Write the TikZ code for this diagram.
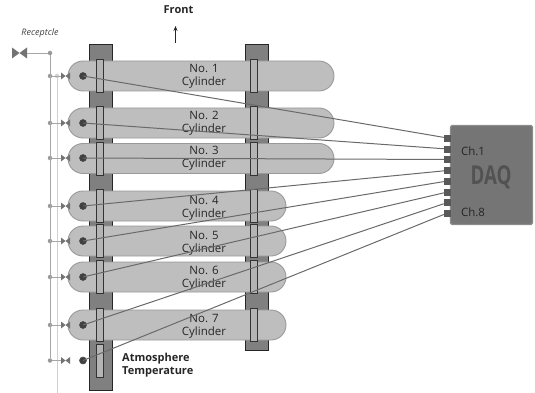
\documentclass[tikz,border=0pt]{standalone}
\usepackage{fontspec}
\setmainfont{Open Sans}
\usetikzlibrary{arrows.meta,positioning}
\definecolor{beamgray}{HTML}{808080}
\definecolor{cylgray}{HTML}{BEBEBE}
\definecolor{cyledge}{HTML}{999999}
\definecolor{pipegray}{HTML}{A6A6A6}
\definecolor{clampgray}{HTML}{B4B4B4}
\definecolor{wiregray}{HTML}{6A6A6A}
\definecolor{daqgray}{HTML}{757575}

\begin{document}
\begin{tikzpicture}[
  x=1pt, y=-1pt,
  beam/.style   = {rectangle, draw=black!85, fill=beamgray, line width=0.8pt,
                   minimum width=23pt, inner sep=0pt},
  cyl/.style    = {rectangle, draw=cyledge, fill=cylgray, rounded corners=15pt,
                   line width=0.9pt, minimum height=30pt, inner sep=0pt},
  clamp/.style  = {rectangle, draw=black!80, fill=clampgray, line width=0.7pt,
                   minimum width=7pt, inner sep=0pt},
  cyllab/.style = {align=center, font=\fontsize{11.5}{13}\selectfont, text=black!85,
                   inner sep=0pt},
  sensor/.style = {circle, draw=black!70, fill=black!75, line width=0.6pt,
                   minimum size=7pt, inner sep=0pt},
  joint/.style  = {circle, fill=cyledge, minimum size=4.5pt, inner sep=0pt},
  ljoint/.style = {circle, fill=black!18, minimum size=4.5pt, inner sep=0pt},
  valve/.style  = {rectangle, minimum width=9pt, minimum height=7pt, inner sep=0pt,
                   path picture={\fill[black!55]
                     (path picture bounding box.north west) --
                     (path picture bounding box.south east) --
                     (path picture bounding box.north east) --
                     (path picture bounding box.south west) -- cycle;}},
  port/.style   = {rectangle, fill=black!65, minimum width=7pt, minimum height=7pt,
                   inner sep=0pt},
  pipe/.style   = {draw=pipegray, line width=0.9pt},
  lpipe/.style  = {draw=black!18, line width=0.9pt},
  wire/.style   = {draw=wiregray, line width=1pt}
]
\useasboundingbox (0,0) rectangle (535,393);
% support beams
\node[beam, minimum height=346pt] (lbeam) at (100.5,217) {};
\node[beam, minimum height=306pt] (rbeam) at (256.5,197) {};
% cylinders
\node[cyl, minimum width=266pt] (cyl1) at (201,76)  {};
\node[cyl, minimum width=266pt] (cyl2) at (201,123) {};
\node[cyl, minimum width=266pt] (cyl3) at (201,158.5) {};
\node[cyl, minimum width=218pt] (cyl4) at (177,206) {};
\node[cyl, minimum width=218pt] (cyl5) at (177,241) {};
\node[cyl, minimum width=218pt] (cyl6) at (177,277) {};
\node[cyl, minimum width=218pt] (cyl7) at (177,325) {};
% clamps
\node[clamp, minimum height=33pt] (lc1) at (99.5,76)  {};
\node[clamp, minimum height=33pt] (lc2) at (99.5,123) {};
\node[clamp, minimum height=33pt] (lc3) at (99.5,158.5) {};
\node[clamp, minimum height=33pt] (lc4) at (99.5,206) {};
\node[clamp, minimum height=33pt] (lc5) at (99.5,241) {};
\node[clamp, minimum height=33pt] (lc6) at (99.5,277) {};
\node[clamp, minimum height=33pt] (lc7) at (99.5,325) {};
\node[clamp, minimum height=33pt] (lc8) at (99.5,360.5) {};
\node[clamp, minimum height=33pt] (rc1) at (254,76)  {};
\node[clamp, minimum height=33pt] (rc2) at (254,123) {};
\node[clamp, minimum height=33pt] (rc3) at (254,158.5) {};
\node[clamp, minimum height=33pt] (rc4) at (254,206) {};
\node[clamp, minimum height=33pt] (rc5) at (254,241) {};
\node[clamp, minimum height=33pt] (rc6) at (254,277) {};
\node[clamp, minimum height=33pt] (rc7) at (254,325) {};
% labels
\node[cyllab] (lab1) at (204,76.5)  {No. 1\\Cylinder};
\node[cyllab] (lab2) at (204,123.5) {No. 2\\Cylinder};
\node[cyllab] (lab3) at (204,158) {No. 3\\Cylinder};
\node[cyllab] (lab4) at (204,208.5) {No. 4\\Cylinder};
\node[cyllab] (lab5) at (204,243.5) {No. 5\\Cylinder};
\node[cyllab] (lab6) at (204,278.5) {No. 6\\Cylinder};
\node[cyllab] (lab7) at (204,326.5) {No. 7\\Cylinder};
\node[align=left, inner sep=0pt, font=\bfseries\fontsize{11}{13}\selectfont, text=black!85,
      anchor=west] (atm) at (122,365) {Atmosphere\\Temperature};
\node[inner sep=0pt, font=\bfseries\fontsize{11}{13}\selectfont, text=black!85] (front) at (178.5,10) {Front};
\node[inner sep=0pt, font=\itshape\fontsize{9}{11}\selectfont, text=black!75] (recp) at (40,33) {Receptcle};
% air lines
\coordinate (lbot) at (57,393);
\node[valve, minimum width=15pt, minimum height=11pt] (main) at (19.5,53) {};
\node[joint] (j0) at (50,53)  {};
\node[joint] (j1) at (50,76)  {};
\node[joint] (j2) at (50,123) {};
\node[joint] (j3) at (50,158) {};
\node[joint] (j4) at (50,206) {};
\node[joint] (j5) at (50,241) {};
\node[joint] (j6) at (50,277) {};
\node[joint] (j7) at (50,325) {};
\node[joint] (j8) at (50,360.5) {};
\node[ljoint] (k1) at (57,76) {};
\node[valve] (v1) at (65.5,76)  {};
\node[valve] (v2) at (65.5,123) {};
\node[valve] (v3) at (65.5,158) {};
\node[valve] (v4) at (65.5,206) {};
\node[valve] (v5) at (65.5,241) {};
\node[valve] (v6) at (65.5,277) {};
\node[valve] (v7) at (65.5,325) {};
\node[valve] (v8) at (65.5,360.5) {};
\draw[lpipe] (k1) -- (lbot);
\draw[pipe] (main) -- (j0);
\draw[pipe] (j0) -- (j8);
\draw[pipe] (j1) -- (v1);
\draw[pipe] (j2) -- (v2);
\draw[pipe] (j3) -- (v3);
\draw[pipe] (j4) -- (v4);
\draw[pipe] (j5) -- (v5);
\draw[pipe] (j6) -- (v6);
\draw[pipe] (j7) -- (v7);
\draw[pipe] (j8) -- (v8);
% sensors
\node[sensor] (s1) at (83,76)  {};
\node[sensor] (s2) at (83,123) {};
\node[sensor] (s3) at (83,158) {};
\node[sensor] (s4) at (83,206) {};
\node[sensor] (s5) at (83,241) {};
\node[sensor] (s6) at (83,277) {};
\node[sensor] (s7) at (83,325) {};
\node[sensor] (s8) at (83,360.5) {};
% DAQ
\node[rectangle, draw=black!45, fill=daqgray, line width=1.2pt, rounded corners=1.5pt,
      minimum width=82pt, minimum height=99pt, inner sep=0pt] (daq) at (491.5,175) {};
\node[port] (p1) at (447.5,138)   {};
\node[port] (p2) at (447.5,149)   {};
\node[port] (p3) at (447.5,159.5) {};
\node[port] (p4) at (447.5,170.5) {};
\node[port] (p5) at (447.5,181)   {};
\node[port] (p6) at (447.5,192)   {};
\node[port] (p7) at (447.5,202.5) {};
\node[port] (p8) at (447.5,213)   {};
\node[inner sep=0pt, text=black!85, font=\fontsize{11.5}{13}\selectfont] (ch1) at (473,151) {Ch.1};
\node[inner sep=0pt, text=black!85, font=\fontsize{11.5}{13}\selectfont] (ch8) at (473,212) {Ch.8};
\node[inner sep=0pt, text=black!68, font=\bfseries\fontsize{26}{28}\selectfont] (daqlab) at (491,177) {\scalebox{.72}[1]{DAQ}};
% wires
\draw[wire] (s1.center) -- (p1);
\draw[wire] (s2.center) -- (p2);
\draw[wire] (s3.center) -- (p3);
\draw[wire] (s4.center) -- (p4);
\draw[wire] (s5.center) -- (p5);
\draw[wire] (s6.center) -- (p6);
\draw[wire] (s7.center) -- (p7);
\draw[wire] (s8.center) -- (p8);
% front arrow
\coordinate (fbot) at (175.5,43);
\coordinate (ftop) at (175.5,26);
\draw[-{Stealth[length=5pt,width=4pt]}, black!85, line width=0.7pt] (fbot) -- (ftop);
\end{tikzpicture}
\end{document}
